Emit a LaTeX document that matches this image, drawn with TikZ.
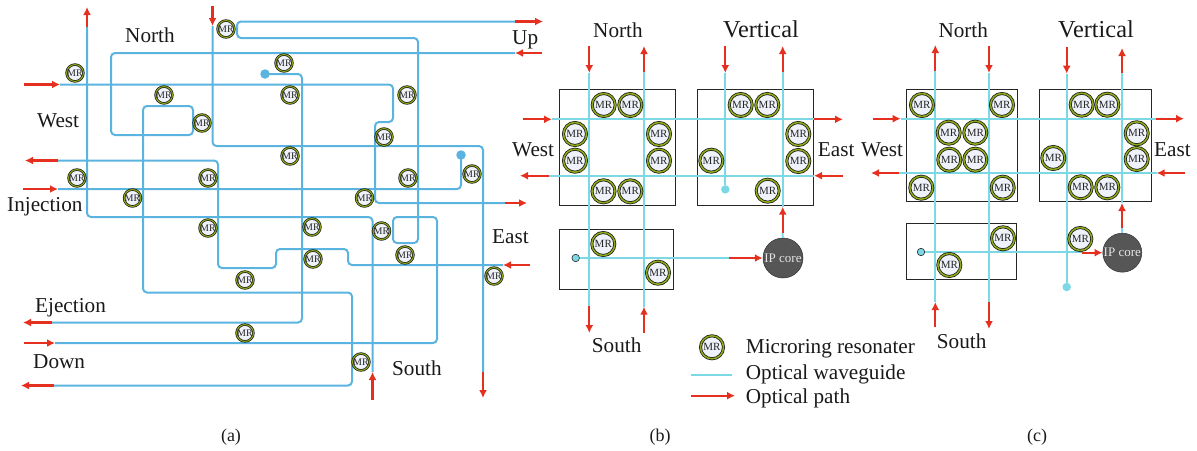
\documentclass[tikz,border=0pt]{standalone}
\usepackage{fontspec}
\setmainfont{Liberation Serif}
\usetikzlibrary{arrows.meta}
\definecolor{wgA}{HTML}{5BB4DF}
\definecolor{wgB}{HTML}{7DD8E6}
\definecolor{pathred}{HTML}{E5301F}
\definecolor{ringol}{HTML}{8FAA18}
\definecolor{ringin}{HTML}{F0F2FB}
\definecolor{coregray}{HTML}{565656}
\tikzset{
  x=1pt,y=-1pt,
  wga/.style={draw=wgA,line width=2pt,rounded corners=4pt},
  wgb/.style={draw=wgB,line width=2pt},
  rpath/.style={draw=pathred,line width=2.2pt,-{Latex[length=8pt,width=8pt]}},
  mra/.style={circle,draw=black!90,double=ringol,double distance=1.1pt,line width=.7pt,fill=ringin,minimum size=16.4pt,inner sep=0pt,text=black!85,font=\fontsize{10}{10}\selectfont},
  mrb/.style={circle,draw=black!90,double=ringol,double distance=1.5pt,line width=.75pt,fill=ringin,minimum size=23pt,inner sep=0pt,text=black!85,font=\fontsize{11}{11}\selectfont},
  lab/.style={anchor=base west,inner sep=0pt,text=black!90,font=\fontsize{21.2}{24}\selectfont},
  vlab/.style={anchor=base west,inner sep=0pt,text=black!90,font=\fontsize{24.3}{26}\selectfont},
  capt/.style={anchor=base,inner sep=0pt,text=black!90,font=\fontsize{18}{20}\selectfont},
  routerbox/.style={draw=black!85,line width=.9pt},
  adot/.style={circle,fill=wgA,inner sep=0pt,minimum size=9.5pt},
  bdot/.style={circle,fill=wgB,inner sep=0pt,minimum size=8.5pt},
  odot/.style={circle,fill=wgB,draw=black!85,line width=.6pt,inner sep=0pt,minimum size=7.5pt},
  core/.style={circle,fill=coregray,draw=black!80,line width=.5pt,inner sep=0pt,text=white!90!black,font=\fontsize{13}{13}\selectfont},
}
\begin{document}
\begin{tikzpicture}
\useasboundingbox (0,0) rectangle (1197,450);
% ---------- panel (a): terminals
\foreach \n/\x/\y in {
 nOs/87/27, nOe/87/7, nIs/212.5/6, nIe/212.5/26,
 wIs/24/84.5, wIe/60/84.5, wOs/58/160.5, wOe/25/160.5,
 jIs/23/189, jIe/58/189, eOs/505/203, eOe/527/203,
 uOs/515/21.5, uOe/543/21.5, uIs/542/53, uIe/515/53,
 eIs/530/265, eIe/503/265, sOs/483/372, sOe/483/398,
 sIs/372.5/400, sIe/372.5/372, dIs/24/343, dIe/55/343,
 dOs/54/385.5, dOe/21/385.5, xOs/52/322.5, xOe/23/322.5}
  \coordinate (\n) at (\x,\y);
\node[adot] (dotA) at (265,74) {};
\node[adot] (dotB) at (461,155) {};
% ---------- panel (a): waveguides
\draw[wga] (nOs) -- (87,217) -- (372.5,217) -- (sIe);
\draw[wga] (wIe) -- (393,84.5) -- (393,122) -- (375,122) -- (375,203) -- (eOs);
\draw[wga] (wOs) -- (218,160.5) -- (218,268) -- (276,268) -- (276,249) -- (348,249) -- (348,265) -- (eIe);
\draw[wga] (jIe) -- (461,189) -- (dotB.center);
\draw[wga] (uIe) -- (111,53) -- (111,135) -- (193,135) -- (193,106) -- (143,106) -- (143,292.5) -- (352,292.5) -- (352,385.5) -- (dOs);
\draw[wga] (nIe) -- (212.5,146) -- (483,146) -- (sOs);
\draw[wga] (uOs) -- (237,21.5) -- (237,38) -- (418,38) -- (418,243) -- (393,243) -- (393,217) -- (437,217) -- (437,343) -- (dIe);
\draw[wga] (dotA.center) -- (302,74) -- (302,322.5) -- (xOs);
% ---------- panel (a): optical paths
\draw[rpath] (nOs) -- (nOe);
\draw[rpath] (nIs) -- (nIe);
\draw[rpath] (wIs) -- (wIe);
\draw[rpath] (wOs) -- (wOe);
\draw[rpath] (jIs) -- (jIe);
\draw[rpath] (eOs) -- (eOe);
\draw[rpath] (uOs) -- (uOe);
\draw[rpath] (uIs) -- (uIe);
\draw[rpath] (eIs) -- (eIe);
\draw[rpath] (sOs) -- (sOe);
\draw[rpath] (sIs) -- (sIe);
\draw[rpath] (dIs) -- (dIe);
\draw[rpath] (dOs) -- (dOe);
\draw[rpath] (xOs) -- (xOe);
% ---------- panel (a): rings
\foreach \n/\x/\y in {
 1/75/73, 2/164/95, 3/202/123, 4/77/178, 5/132.5/198, 6/208/178, 7/226/29,
 8/284/63, 9/290/95, 10/290/156, 11/208/228, 12/245/280, 13/245/333,
 14/407/95, 15/384/137, 16/408/178, 17/472/174, 18/364.5/198, 19/312/227,
 20/313/259, 21/381.5/231, 22/405/255, 23/494/276, 24/361/362}
  \node[mra] (a\n) at (\x,\y) {MR};
% ---------- panel (a): labels
\node[lab] (laN) at (125,42) {North};
\node[lab] (laW) at (37,127) {West};
\node[lab] (laI) at (7,211) {Injection};
\node[lab] (laEj) at (35,312) {Ejection};
\node[lab] (laD) at (33,368) {Down};
\node[lab] (laU) at (512,44) {Up};
\node[lab] (laE) at (492,243) {East};
\node[lab] (laS) at (392,375) {South};
\node[capt] (capa) at (231,441) {(a)};
% ---------- panel (b): boxes
\draw[routerbox] (559.3,89.3) rectangle (675,205.3);
\draw[routerbox] (697.3,89.3) rectangle (813,205.3);
\draw[routerbox] (559.3,229.3) rectangle (673,289.3);
% ---------- panel (b): terminals
\foreach \n/\x/\y in {
 a/589.3/46, b/589.3/73, c/644/72, d/644/46, e/725.3/46, f/725.3/73,
 g/782.7/72, h/782.7/46, i/523/119.3, j/552/119.3, k/814/119.3, l/843/119.3,
 m/843/175.7, n/814/175.7, o/549/175.7, p/520/175.7,
 q/589.3/305.7, r/589.3/333, s/644/333, t/644/306.7,
 u/729/258, v/782.7/233, w/782.7/206.7}
  \coordinate (b\n) at (\x,\y);
\node[bdot] (bdotV) at (725.3,189.4) {};
\node[odot] (bdotI) at (575.7,258) {};
\node[core,minimum size=40pt] (bcore) at (783,258) {IP core};
\draw[wgb] (bb) -- (bq);
\draw[wgb] (bc) -- (bt);
\draw[wgb] (bf) -- (bdotV);
\draw[wgb] (bg) -- (bw);
\draw[wgb] (bcore) -- (bv);
\draw[wgb] (bj) -- (bk);
\draw[wgb] (bn) -- (bo);
\draw[wgb] (bdotI) -- (bu);
\draw[rpath] (ba) -- (bb);
\draw[rpath] (bc) -- (bd);
\draw[rpath] (be) -- (bf);
\draw[rpath] (bg) -- (bh);
\draw[rpath] (bi) -- (bj);
\draw[rpath] (bk) -- (bl);
\draw[rpath] (bm) -- (bn);
\draw[rpath] (bo) -- (bp);
\draw[rpath] (bq) -- (br);
\draw[rpath] (bs) -- (bt);
\draw[rpath] (bu) -- (bcore);
\draw[rpath] (bv) -- (bw);
\foreach \n/\x/\y in {
 1/603.7/105, 2/630.3/105, 3/575/134, 4/575/160.7, 5/659/134, 6/659/160.7,
 7/603.5/191.3, 8/630.3/191.3, 9/740.7/105, 10/767.3/105, 11/798.3/134,
 12/798.3/161, 13/711.3/160.7, 14/767.7/190.7, 15/603.3/244, 16/658/272.7}
  \node[mrb] (b\n) at (\x,\y) {MR};
\node[lab] (lbN) at (593,37.3) {North};
\node[vlab] (lbV) at (723,37.3) {Vertical};
\node[lab] (lbW) at (512,156.7) {West};
\node[lab] (lbE) at (817.7,156.7) {East};
\node[lab] (lbS) at (591.7,352.7) {South};
\node[capt] (capb) at (660,441) {(b)};
% ---------- legend
\node[mrb] (legmr) at (712,347.3) {MR};
\coordinate (lega) at (691,374.7);
\coordinate (legb) at (731.7,374.7);
\coordinate (legc) at (691,395.7);
\coordinate (legd) at (735,395.7);
\draw[wgb] (lega) -- (legb);
\draw[rpath] (legc) -- (legd);
\node[lab] (leg1) at (745.7,353) {Microring resonater};
\node[lab] (leg2) at (745.7,379) {Optical waveguide};
\node[lab] (leg3) at (745.7,403) {Optical path};
% ---------- panel (c): boxes
\draw[routerbox] (906.3,89.7) rectangle (1017.7,201.3);
\draw[routerbox] (1039.3,89.7) rectangle (1151,201.3);
\draw[routerbox] (906.3,223.3) rectangle (1016.3,279.7);
\foreach \n/\x/\y in {
 a/935.3/70.7, b/935.3/45, c/989/46, d/989/73, e/1066.7/47, f/1066.7/73.7,
 g/1122/73, h/1122/48, i/872.7/118.7, j/900.7/118.7, k/1156/118.7, l/1184/118.7,
 m/1185/173, n/1156.7/173, o/899/173, p/871/173,
 q/935.3/327, r/935.3/302, s/989/302.3, t/989/329,
 u/1081.7/252.7, v/1122/228, w/1122/203}
  \coordinate (c\n) at (\x,\y);
\node[bdot] (cdotV) at (1066.7,287) {};
\node[odot] (cdotI) at (921,252) {};
\node[core,minimum size=39pt] (ccore) at (1122.3,252.7) {IP core};
\draw[wgb] (ca) -- (cr);
\draw[wgb] (cd) -- (cs);
\draw[wgb] (cf) -- (cdotV);
\draw[wgb] (cg) -- (cw);
\draw[wgb] (ccore) -- (cv);
\draw[wgb] (cj) -- (ck);
\draw[wgb] (cn) -- (co);
\draw[wgb] (cdotI) -- (cdotI -| cu) -- (cu);
\draw[rpath] (ca) -- (cb);
\draw[rpath] (cc) -- (cd);
\draw[rpath] (ce) -- (cf);
\draw[rpath] (cg) -- (ch);
\draw[rpath] (ci) -- (cj);
\draw[rpath] (ck) -- (cl);
\draw[rpath] (cm) -- (cn);
\draw[rpath] (co) -- (cp);
\draw[rpath] (cq) -- (cr);
\draw[rpath] (cs) -- (ct);
\draw[rpath] (cu) -- (ccore);
\draw[rpath] (cv) -- (cw);
\foreach \n/\x/\y in {
 1/922/105, 2/1002/105, 3/948.7/132.7, 4/975.3/132.7, 5/949.3/159.7, 6/975.3/159.7,
 7/921.3/187.7, 8/1002.7/187.7, 9/1081.7/104.7, 10/1107.3/104.7, 11/1136.7/133.3,
 12/1136.7/159, 13/1053.3/158, 14/1080.7/187.3, 15/1107.3/187.3, 16/1003/238.3,
 17/949.3/265, 18/1080.3/239}
  \node[mrb] (c\n) at (\x,\y) {MR};
\node[lab] (lcN) at (938.3,37.3) {North};
\node[vlab] (lcV) at (1058,37.3) {Vertical};
\node[lab] (lcW) at (861,156.7) {West};
\node[lab] (lcE) at (1154,156.7) {East};
\node[lab] (lcS) at (936.7,348) {South};
\node[capt] (capc) at (1037,441) {(c)};
\end{tikzpicture}
\end{document}
